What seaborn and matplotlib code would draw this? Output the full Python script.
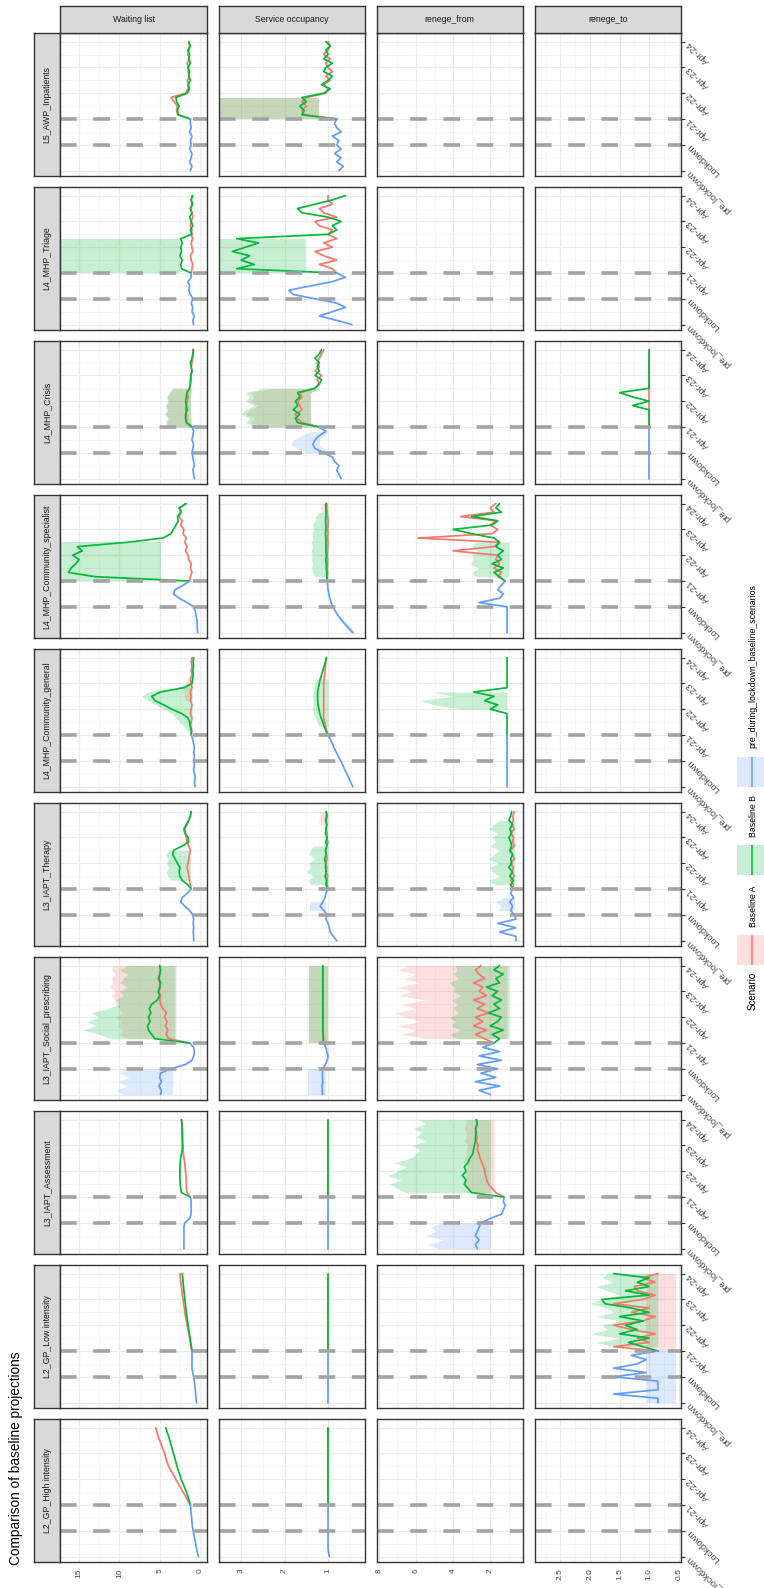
import matplotlib
matplotlib.use("Agg")
import matplotlib.pyplot as plt
from matplotlib.colors import to_rgba
import pandas as pd
import seaborn as sns

sns.set_style("white")
plt.rcParams["font.family"] = ["Liberation Sans", "DejaVu Sans"]

# ---- chart data ----
services = ["L2_GP_High intensity", "L2_GP_Low intensity", "L3_IAPT_Assessment",
            "L3_IAPT_Social_prescribing", "L3_IAPT_Therapy", "L4_MHP_Community_general",
            "L4_MHP_Community_specialist", "L4_MHP_Crisis", "L4_MHP_Triage", "L5_AWP_Inpatients"]
metrics = ["Waiting list", "Service occupancy", "renege_from", "renege_to"]
scenarios = ["Baseline A", "Baseline B", "pre_during_lockdown_baseline_scenarios"]
scenario_colors = ["#F8766D", "#00BA38", "#619CFF"]

months_pre = [0, 2, 4, 6, 8, 10, 12, 14, 16, 18, 20, 22, 24]
months_base = [24, 26, 28, 30, 32, 34, 36, 38, 40, 42, 44, 46, 48, 50, 52, 54, 56, 58, 60]
time_ticks = [0, 12, 24, 36, 48, 60]
time_minor = [6, 18, 30, 42, 54]
time_labels = ["pre_lockdown", "Lockdown", "Apr-21", "Apr-22", "Apr-23", "Apr-24"]
phase_months = [12, 24]

value_ticks = {"Waiting list": [0, 5, 10, 15], "Service occupancy": [1, 2, 3],
               "renege_from": [2, 4, 6, 8], "renege_to": [0.5, 1.0, 1.5, 2.0, 2.5]}
value_tick_labels = {"Waiting list": ["0", "5", "10", "15"], "Service occupancy": ["1", "2", "3"],
                     "renege_from": ["2", "4", "6", "8"],
                     "renege_to": ["0.5", "1.0", "1.5", "2.0", "2.5"]}
value_minor = {"Waiting list": [2.5, 7.5, 12.5], "Service occupancy": [0.5, 1.5, 2.5, 3.5],
               "renege_from": [1, 3, 5, 7], "renege_to": [0.75, 1.25, 1.75, 2.25, 2.75]}
value_range = {"Waiting list": (-0.86, 17.3), "Service occupancy": (0.15, 3.52),
               "renege_from": (0.24, 8.12), "renege_to": (0.46, 2.94)}

waiting_pre = {
    "L2_GP_High intensity": [0.2, 0.35, 0.45, 0.55, 0.65, 0.75, 0.85, 0.95, 1.0, 1.05, 1.1, 1.15, 1.2],
    "L2_GP_Low intensity": [0.45, 0.5, 0.55, 0.6, 0.65, 0.7, 0.8, 0.9, 1.0, 1.0, 1.0, 1.0, 1.0],
    "L3_IAPT_Assessment": [2.0, 2.0, 2.0, 2.0, 2.0, 2.0, 1.9, 1.3, 1.1, 1.1, 1.1, 1.1, 1.2],
    "L3_IAPT_Social_prescribing": [4.9, 4.8, 5.1, 4.8, 5.0, 4.9, 3.6, 1.8, 1.0, 0.8, 0.7, 0.8, 1.3],
    "L3_IAPT_Therapy": [0.8, 0.8, 0.85, 0.8, 0.85, 0.8, 0.9, 1.3, 1.9, 2.4, 2.2, 1.6, 1.1],
    "L4_MHP_Community_general": [0.6, 0.7, 0.6, 0.7, 0.8, 0.7, 0.8, 0.7, 0.8, 0.7, 0.8, 0.9, 1.1],
    "L4_MHP_Community_specialist": [0.3, 0.35, 0.35, 0.4, 0.5, 0.6, 0.8, 1.6, 2.6, 3.3, 3.1, 2.1, 1.3],
    "L4_MHP_Crisis": [0.7, 0.8, 0.9, 0.7, 0.8, 0.9, 1.0, 0.9, 0.8, 1.0, 0.9, 0.8, 1.0],
    "L4_MHP_Triage": [0.8, 0.9, 0.7, 1.0, 0.9, 1.1, 0.9, 1.2, 1.4, 1.3, 1.5, 1.1, 1.1],
    "L5_AWP_Inpatients": [1.2, 1.0, 1.3, 1.1, 1.0, 1.3, 1.1, 1.2, 1.0, 1.3, 1.1, 1.2, 1.2],
}
waiting_a = {
    "L2_GP_High intensity": [1.2, 1.5, 1.8, 2.1, 2.4, 2.7, 3.0, 3.3, 3.6, 3.9, 4.1, 4.25, 4.4, 4.6, 4.8, 5.0, 5.2, 5.35, 5.5],
    "L2_GP_Low intensity": [1.0, 1.1, 1.2, 1.3, 1.4, 1.5, 1.6, 1.7, 1.8, 1.9, 1.95, 2.05, 2.1, 2.2, 2.25, 2.3, 2.4, 2.45, 2.5],
    "L3_IAPT_Assessment": [1.2, 1.6, 1.7, 1.7, 1.7, 1.75, 1.8, 1.85, 1.9, 2.0, 2.05, 2.1, 2.1, 2.15, 2.2, 2.2, 2.2, 2.25, 2.3],
    "L3_IAPT_Social_prescribing": [1.3, 3.9, 4.2, 4.0, 4.3, 4.1, 4.4, 4.2, 4.6, 4.9, 5.0, 4.9, 5.1, 4.9, 5.0, 5.2, 5.0, 4.9, 5.0],
    "L3_IAPT_Therapy": [1.1, 1.2, 1.3, 1.4, 1.5, 1.6, 1.5, 1.4, 1.3, 1.2, 1.4, 1.6, 1.7, 1.8, 1.9, 1.6, 1.4, 1.2, 1.1],
    "L4_MHP_Community_general": [1.1, 1.0, 1.2, 1.1, 1.0, 1.2, 1.1, 1.0, 1.2, 1.1, 1.2, 1.0, 1.1, 1.2, 1.0, 1.1, 1.0, 1.1, 1.0],
    "L4_MHP_Community_specialist": [1.3, 1.2, 1.0, 1.2, 1.1, 1.4, 1.5, 1.8, 1.6, 1.9, 1.7, 2.1, 2.0, 2.4, 2.2, 2.6, 2.3, 2.5, 1.8],
    "L4_MHP_Crisis": [1.0, 1.6, 1.7, 1.7, 1.8, 1.7, 1.6, 1.5, 1.6, 1.3, 1.2, 1.1, 1.2, 1.0, 1.1, 1.0, 0.9, 0.9, 0.9],
    "L4_MHP_Triage": [1.1, 1.0, 0.9, 1.1, 1.2, 0.9, 1.0, 1.1, 0.9, 1.1, 1.0, 1.2, 1.1, 0.9, 1.0, 1.2, 1.0, 1.1, 1.0],
    "L5_AWP_Inpatients": [1.2, 2.8, 2.9, 2.8, 3.2, 3.6, 1.8, 1.5, 1.4, 1.6, 1.3, 1.5, 1.4, 1.6, 1.3, 1.5, 1.4, 1.3, 1.4],
}
waiting_b = {
    "L2_GP_High intensity": [1.2, 1.35, 1.5, 1.7, 1.9, 2.1, 2.35, 2.5, 2.7, 2.85, 3.0, 3.15, 3.3, 3.45, 3.6, 3.75, 3.9, 4.1, 4.25],
    "L2_GP_Low intensity": [1.0, 1.08, 1.16, 1.24, 1.32, 1.4, 1.48, 1.55, 1.62, 1.7, 1.76, 1.82, 1.88, 1.94, 2.0, 2.05, 2.1, 2.15, 2.2],
    "L3_IAPT_Assessment": [1.2, 2.3, 2.4, 2.45, 2.5, 2.5, 2.5, 2.5, 2.45, 2.4, 2.3, 2.2, 2.2, 2.2, 2.2, 2.2, 2.25, 2.25, 2.3],
    "L3_IAPT_Social_prescribing": [1.3, 5.6, 6.0, 6.4, 6.5, 6.2, 6.4, 6.1, 6.3, 6.0, 5.3, 5.0, 5.2, 5.0, 4.9, 5.1, 5.0, 4.9, 5.0],
    "L3_IAPT_Therapy": [1.1, 1.5, 2.2, 2.5, 2.6, 2.5, 2.8, 3.1, 3.4, 3.3, 2.2, 1.4, 1.5, 1.9, 2.0, 1.7, 1.4, 1.2, 1.1],
    "L4_MHP_Community_general": [1.1, 1.1, 1.2, 1.3, 1.5, 2.3, 3.5, 4.5, 5.6, 6.0, 4.9, 2.0, 1.0, 0.9, 0.85, 0.9, 0.8, 0.85, 0.8],
    "L4_MHP_Community_specialist": [1.3, 13.0, 16.3, 16.0, 15.4, 15.0, 15.8, 14.6, 15.2, 9.0, 4.6, 3.6, 3.3, 3.0, 2.7, 2.8, 2.4, 2.6, 1.7],
    "L4_MHP_Crisis": [1.0, 1.7, 1.8, 1.8, 1.6, 1.7, 1.8, 1.7, 1.6, 1.3, 1.2, 1.2, 1.1, 1.0, 1.1, 1.2, 1.0, 0.9, 0.8],
    "L4_MHP_Triage": [1.1, 2.3, 2.4, 2.2, 2.5, 2.3, 2.4, 2.2, 2.4, 1.0, 1.2, 0.9, 1.1, 1.3, 1.0, 1.2, 0.9, 1.1, 0.9],
    "L5_AWP_Inpatients": [1.2, 2.7, 2.8, 2.6, 2.9, 3.0, 1.6, 1.3, 1.5, 1.2, 1.4, 1.3, 1.5, 1.2, 1.4, 1.3, 1.5, 1.2, 1.4],
}

occupancy_pre = {
    "L2_GP_High intensity": [0.97, 0.99, 1.0, 1.0, 1.0, 1.0, 1.0, 1.0, 1.0, 1.0, 1.0, 1.0, 1.0],
    "L2_GP_Low intensity": [1.0, 1.0, 1.0, 1.0, 1.0, 1.0, 1.0, 1.0, 1.0, 1.0, 1.0, 1.0, 1.0],
    "L3_IAPT_Assessment": [1.0, 1.0, 1.0, 1.0, 1.0, 1.0, 1.0, 1.0, 1.0, 1.0, 1.0, 1.0, 1.0],
    "L3_IAPT_Social_prescribing": [1.13, 1.13, 1.14, 1.12, 1.13, 1.13, 1.12, 1.06, 1.02, 1.0, 1.03, 1.05, 1.1],
    "L3_IAPT_Therapy": [0.8, 0.88, 0.95, 0.97, 1.0, 1.05, 1.02, 1.1, 1.18, 1.12, 1.07, 1.05, 1.0],
    "L4_MHP_Community_general": [0.43, 0.48, 0.52, 0.57, 0.62, 0.66, 0.71, 0.76, 0.81, 0.86, 0.9, 0.95, 1.0],
    "L4_MHP_Community_specialist": [0.43, 0.52, 0.61, 0.7, 0.77, 0.83, 0.89, 0.93, 0.96, 0.98, 1.0, 1.01, 1.02],
    "L4_MHP_Crisis": [0.7, 0.75, 0.8, 0.75, 0.85, 0.9, 1.1, 1.3, 1.35, 1.3, 1.2, 1.05, 1.2],
    "L4_MHP_Triage": [0.45, 0.8, 1.2, 0.9, 0.6, 0.8, 1.3, 1.8, 1.9, 1.4, 0.9, 0.6, 0.8],
    "L5_AWP_Inpatients": [0.75, 0.65, 0.8, 0.7, 0.85, 0.7, 0.8, 0.75, 0.9, 0.7, 0.8, 0.85, 0.8],
}
occupancy_a = {
    "L2_GP_High intensity": [1.0, 1.0, 1.0, 1.0, 1.0, 1.0, 1.0, 1.0, 1.0, 1.0, 1.0, 1.0, 1.0, 1.0, 1.0, 1.0, 1.0, 1.0, 1.0],
    "L2_GP_Low intensity": [1.0, 1.0, 1.0, 1.0, 1.0, 1.0, 1.0, 1.0, 1.0, 1.0, 1.0, 1.0, 1.0, 1.0, 1.0, 1.0, 1.0, 1.0, 1.0],
    "L3_IAPT_Assessment": [1.0, 1.0, 1.0, 1.0, 1.0, 1.0, 1.0, 1.0, 1.0, 1.0, 1.0, 1.0, 1.0, 1.0, 1.0, 1.0, 1.0, 1.0, 1.0],
    "L3_IAPT_Social_prescribing": [1.1, 1.11, 1.11, 1.12, 1.12, 1.12, 1.12, 1.12, 1.12, 1.12, 1.12, 1.12, 1.12, 1.12, 1.12, 1.12, 1.12, 1.12, 1.12],
    "L3_IAPT_Therapy": [1.0, 1.02, 1.04, 1.01, 1.05, 1.03, 1.06, 1.02, 1.04, 1.05, 1.03, 1.0, 1.04, 1.02, 1.05, 1.03, 1.06, 1.04, 1.05],
    "L4_MHP_Community_general": [1.0, 1.03, 1.06, 1.08, 1.1, 1.1, 1.1, 1.1, 1.1, 1.1, 1.1, 1.1, 1.1, 1.09, 1.08, 1.07, 1.06, 1.05, 1.04],
    "L4_MHP_Community_specialist": [1.02, 1.02, 1.01, 1.02, 1.01, 1.01, 1.02, 1.01, 1.01, 1.0, 1.01, 1.0, 1.01, 1.0, 1.0, 1.01, 1.02, 1.03, 1.03],
    "L4_MHP_Crisis": [1.2, 1.6, 1.7, 1.75, 1.6, 1.65, 1.7, 1.6, 1.65, 1.3, 1.2, 1.25, 1.15, 1.3, 1.2, 1.25, 1.2, 1.15, 1.1],
    "L4_MHP_Triage": [0.8, 0.9, 1.2, 0.8, 1.1, 1.3, 0.9, 1.1, 0.8, 1.0, 0.9, 1.2, 1.3, 0.8, 1.1, 1.2, 0.9, 1.0, 1.0],
    "L5_AWP_Inpatients": [0.8, 1.55, 1.6, 1.5, 1.6, 1.5, 1.05, 1.0, 1.1, 0.95, 1.05, 0.9, 1.0, 1.05, 0.95, 1.1, 1.0, 0.95, 1.0],
}
occupancy_b = {
    "L2_GP_High intensity": [1.0, 1.0, 1.0, 1.0, 1.0, 1.0, 1.0, 1.0, 1.0, 1.0, 1.0, 1.0, 1.0, 1.0, 1.0, 1.0, 1.0, 1.0, 1.0],
    "L2_GP_Low intensity": [1.0, 1.0, 1.0, 1.0, 1.0, 1.0, 1.0, 1.0, 1.0, 1.0, 1.0, 1.0, 1.0, 1.0, 1.0, 1.0, 1.0, 1.0, 1.0],
    "L3_IAPT_Assessment": [1.0, 1.0, 1.0, 1.0, 1.0, 1.0, 1.0, 1.0, 1.0, 1.0, 1.0, 1.0, 1.0, 1.0, 1.0, 1.0, 1.0, 1.0, 1.0],
    "L3_IAPT_Social_prescribing": [1.1, 1.11, 1.11, 1.12, 1.12, 1.12, 1.12, 1.12, 1.12, 1.12, 1.12, 1.12, 1.12, 1.12, 1.12, 1.12, 1.12, 1.12, 1.12],
    "L3_IAPT_Therapy": [1.0, 1.05, 1.03, 1.07, 1.04, 1.06, 1.05, 1.08, 1.04, 1.06, 1.03, 1.05, 1.02, 1.06, 1.04, 1.03, 1.05, 1.02, 1.04],
    "L4_MHP_Community_general": [1.0, 1.05, 1.09, 1.12, 1.16, 1.19, 1.21, 1.23, 1.24, 1.24, 1.24, 1.22, 1.2, 1.18, 1.15, 1.12, 1.09, 1.06, 1.04],
    "L4_MHP_Community_specialist": [1.02, 1.03, 1.03, 1.04, 1.04, 1.05, 1.04, 1.05, 1.05, 1.05, 1.05, 1.06, 1.05, 1.05, 1.06, 1.05, 1.05, 1.05, 1.05],
    "L4_MHP_Crisis": [1.2, 1.7, 1.75, 1.65, 1.8, 1.7, 1.75, 1.65, 1.7, 1.3, 1.2, 1.15, 1.3, 1.2, 1.25, 1.2, 1.3, 1.2, 1.15],
    "L4_MHP_Triage": [0.8, 3.1, 2.7, 3.0, 2.8, 3.2, 2.9, 2.6, 3.1, 1.0, 0.8, 0.9, 0.7, 1.0, 1.6, 1.7, 1.3, 0.9, 0.6],
    "L5_AWP_Inpatients": [0.8, 1.6, 1.55, 1.65, 1.5, 1.6, 1.1, 0.95, 1.15, 1.0, 0.9, 1.1, 1.05, 0.9, 1.1, 1.0, 1.05, 0.95, 1.05],
}

renege_from_pre = {
    "L3_IAPT_Assessment": [2.7, 2.8, 2.6, 2.8, 2.7, 2.6, 2.5, 2.0, 1.4, 1.3, 1.2, 1.3, 1.25],
    "L3_IAPT_Social_prescribing": [2.0, 2.6, 1.5, 2.8, 1.7, 2.5, 1.6, 2.7, 1.4, 2.6, 1.5, 2.4, 1.8],
    "L3_IAPT_Therapy": [0.62, 0.62, 1.5, 0.62, 1.6, 0.62, 0.7, 0.9, 0.8, 0.95, 0.75, 0.9, 0.8],
    "L4_MHP_Community_general": [1.1, 1.1, 1.1, 1.1, 1.1, 1.1, 1.1, 1.1, 1.1, 1.1, 1.1, 1.1, 1.1],
    "L4_MHP_Community_specialist": [1.1, 1.1, 1.1, 1.1, 1.1, 1.1, 1.1, 2.6, 1.5, 1.3, 1.6, 1.4, 1.2],
}
renege_from_a = {
    "L3_IAPT_Assessment": [1.25, 1.7, 1.9, 2.1, 2.2, 2.25, 2.3, 2.35, 2.45, 2.55, 2.6, 2.7, 2.65, 2.75, 2.7, 2.8, 2.75, 2.7, 2.75],
    "L3_IAPT_Social_prescribing": [1.8, 2.3, 2.8, 2.2, 2.9, 2.4, 2.8, 2.1, 2.7, 2.3, 2.9, 2.2, 2.6, 2.4, 2.9, 2.3, 2.6, 2.8, 2.5],
    "L3_IAPT_Therapy": [0.8, 0.75, 0.9, 0.7, 0.85, 0.75, 0.9, 0.7, 0.8, 0.9, 0.7, 0.8, 0.75, 0.9, 0.7, 0.85, 0.75, 0.8, 0.7],
    "L4_MHP_Community_specialist": [1.2, 1.6, 1.4, 1.8, 1.5, 1.7, 1.6, 4.0, 1.8, 1.5, 5.9, 1.9, 1.6, 2.0, 1.7, 3.6, 1.8, 2.0, 1.7],
}
renege_from_b = {
    "L3_IAPT_Assessment": [1.25, 3.0, 3.2, 3.4, 3.3, 3.5, 3.3, 3.4, 3.2, 3.1, 2.95, 2.9, 2.85, 2.8, 2.8, 2.75, 2.8, 2.7, 2.75],
    "L3_IAPT_Social_prescribing": [1.8, 1.5, 1.9, 1.3, 2.0, 1.6, 1.4, 2.1, 1.5, 1.8, 1.4, 1.9, 1.6, 2.2, 1.5, 1.7, 1.3, 1.8, 1.5],
    "L3_IAPT_Therapy": [0.8, 0.9, 0.75, 0.95, 0.8, 1.0, 0.85, 0.9, 0.8, 0.95, 0.85, 0.9, 1.0, 0.85, 0.95, 0.8, 1.0, 0.9, 0.85],
    "L4_MHP_Community_general": [1.1, 1.1, 1.1, 1.1, 1.1, 1.1, 2.0, 1.6, 2.3, 1.8, 2.9, 1.1, 1.1, 1.1, 1.1, 1.1, 1.1, 1.1, 1.1],
    "L4_MHP_Community_specialist": [1.2, 1.5, 1.8, 1.3, 1.9, 1.4, 1.6, 1.3, 1.7, 1.5, 1.8, 3.0, 4.0, 1.9, 1.6, 3.0, 1.4, 1.7, 1.5],
}

renege_to_pre = {
    "L2_GP_Low intensity": [0.85, 0.85, 1.6, 0.85, 0.85, 0.85, 1.6, 1.05, 1.6, 1.2, 1.05, 1.3, 0.85],
    "L4_MHP_Crisis": [1.0, 1.0, 1.0, 1.0, 1.0, 1.0, 1.0, 1.0, 1.0, 1.0, 1.0, 1.0, 1.0],
}
renege_to_a = {
    "L2_GP_Low intensity": [0.85, 1.6, 1.0, 1.2, 0.9, 1.3, 1.6, 1.1, 0.9, 1.3, 1.0, 1.6, 1.1, 0.9, 1.2, 1.25, 0.9, 1.1, 0.85],
    "L4_MHP_Crisis": [1.0, 1.0, 1.0, 1.0, 1.0, 1.0, 1.0, 1.0, 1.0, 1.0, 1.0, 1.0, 1.0, 1.0, 1.0, 1.0, 1.0, 1.0, 1.0],
}
renege_to_b = {
    "L2_GP_Low intensity": [0.85, 1.1, 1.35, 1.0, 1.5, 1.2, 1.4, 1.1, 1.5, 1.0, 1.3, 1.75, 1.8, 1.0, 1.4, 1.0, 1.2, 1.0, 1.6],
    "L4_MHP_Crisis": [1.0, 1.0, 1.0, 1.0, 1.0, 1.28, 1.0, 1.28, 1.5, 1.0, 1.0, 1.0, 1.0, 1.0, 1.0, 1.0, 1.0, 1.0, 1.0],
}

# uncertainty ribbons: (metric, service) -> (months, low, high)
bands_pre = {
    ("Waiting list", "L3_IAPT_Social_prescribing"): (
        [0, 2, 4, 6, 8, 10, 12], [3.4, 3.4, 3.4, 3.4, 3.4, 3.4, 3.4], [9.5, 10.5, 9.0, 10.2, 8.8, 10.0, 9.5]),
    ("Service occupancy", "L3_IAPT_Social_prescribing"): (
        [0, 2, 4, 6, 8, 10, 12], [1.05, 1.05, 1.05, 1.05, 1.05, 1.05, 1.05], [1.45, 1.45, 1.45, 1.45, 1.45, 1.45, 1.45]),
    ("renege_from", "L3_IAPT_Assessment"): (
        [0, 2, 4, 6, 8, 10, 12], [2.0, 2.0, 2.0, 2.0, 2.0, 2.0, 2.0], [4.8, 5.3, 4.5, 5.5, 4.9, 5.2, 4.6]),
    ("Service occupancy", "L3_IAPT_Therapy"): ([14, 16, 18], [1.05, 1.05, 1.05], [1.43, 1.43, 1.4]),
    ("renege_from", "L3_IAPT_Therapy"): ([14, 16, 18, 20], [0.7, 0.7, 0.7, 0.7], [1.6, 1.4, 1.7, 1.3]),
    ("renege_to", "L2_GP_Low intensity"): (
        [0, 2, 4, 6, 8, 10, 12, 14, 16, 18, 20, 22, 24],
        [0.55, 0.55, 0.55, 0.55, 0.55, 0.55, 0.55, 0.55, 0.55, 0.55, 0.55, 0.55, 0.55],
        [1.05, 1.05, 1.05, 1.05, 1.05, 1.05, 1.05, 1.05, 1.05, 1.05, 1.05, 1.05, 1.05]),
    ("Service occupancy", "L4_MHP_Crisis"): (
        [12, 14, 16, 18, 20, 22], [1.0, 1.1, 1.2, 1.2, 1.1, 1.0], [1.5, 1.7, 1.85, 1.8, 1.6, 1.4]),
    ("Service occupancy", "L4_MHP_Community_specialist"): (
        [0, 2, 4, 6, 8], [0.38, 0.46, 0.55, 0.64, 0.72], [0.5, 0.58, 0.66, 0.74, 0.8]),
}
bands_a = {
    ("Waiting list", "L4_MHP_Crisis"): (
        [24, 26, 28, 30, 32, 34, 36, 38, 40, 42], [1.0, 1.1, 1.2, 1.2, 1.1, 1.2, 1.2, 1.1, 1.2, 1.0],
        [3.8, 4.2, 3.9, 4.3, 4.0, 4.2, 3.9, 4.1, 3.7, 3.2]),
    ("Service occupancy", "L4_MHP_Crisis"): (
        [24, 26, 28, 30, 32, 34, 36, 38, 40, 42], [1.3, 1.4, 1.4, 1.4, 1.4, 1.4, 1.4, 1.4, 1.4, 1.2],
        [2.5, 2.8, 2.7, 2.9, 2.8, 2.6, 2.8, 2.7, 2.8, 2.3]),
    ("Service occupancy", "L5_AWP_Inpatients"): (
        [24, 26, 28, 30, 32, 34], [1.2, 1.2, 1.2, 1.2, 1.2, 1.2], [3.6, 3.6, 3.6, 3.6, 3.6, 3.6]),
    ("Service occupancy", "L4_MHP_Community_specialist"): ([56, 58, 60], [1.0, 1.0, 1.0], [1.15, 1.18, 1.15]),
    ("Waiting list", "L4_MHP_Community_general"): (
        [40, 42, 44, 46, 48, 50], [1.0, 1.0, 1.0, 1.0, 1.0, 1.0], [1.8, 2.0, 1.9, 2.1, 1.8, 1.5]),
    ("Service occupancy", "L3_IAPT_Therapy"): ([54, 56, 58, 60], [1.0, 1.0, 1.0, 1.0], [1.2, 1.22, 1.18, 1.2]),
    ("Waiting list", "L3_IAPT_Social_prescribing"): (
        [26, 28, 30, 32, 34, 36, 38, 40, 42, 44, 46, 48, 50, 52, 54, 56, 58, 60],
        [3.2, 3.2, 3.2, 3.2, 3.2, 3.2, 3.2, 3.2, 3.2, 3.2, 3.2, 3.2, 3.2, 3.2, 3.2, 3.2, 3.2, 3.2],
        [9.0, 10.0, 9.5, 10.2, 9.8, 10.5, 9.6, 10.0, 10.4, 10.6, 11.0, 10.5, 11.2, 10.8, 11.0, 10.5, 11.0, 10.8]),
    ("Service occupancy", "L3_IAPT_Social_prescribing"): (
        [24, 26, 28, 30, 32, 34, 36, 38, 40, 42, 44, 46, 48, 50, 52, 54, 56, 58, 60],
        [1.0, 1.0, 1.0, 1.0, 1.0, 1.0, 1.0, 1.0, 1.0, 1.0, 1.0, 1.0, 1.0, 1.0, 1.0, 1.0, 1.0, 1.0, 1.0],
        [1.43, 1.43, 1.43, 1.43, 1.43, 1.43, 1.43, 1.43, 1.43, 1.43, 1.43, 1.43, 1.43, 1.43, 1.43, 1.43, 1.43, 1.43, 1.43]),
    ("renege_from", "L3_IAPT_Social_prescribing"): (
        [26, 28, 30, 32, 34, 36, 38, 40, 42, 44, 46, 48, 50, 52, 54, 56, 58, 60],
        [1.1, 1.1, 1.1, 1.1, 1.1, 1.1, 1.1, 1.1, 1.1, 1.1, 1.1, 1.1, 1.1, 1.1, 1.1, 1.1, 1.1, 1.1],
        [5.5, 6.8, 6.0, 7.0, 5.8, 6.5, 7.2, 6.0, 6.8, 5.5, 6.9, 6.2, 7.0, 5.8, 6.6, 6.0, 7.0, 6.3]),
    ("renege_from", "L3_IAPT_Assessment"): (
        [26, 28, 30, 32, 34, 36, 38, 40, 42, 44, 46, 48, 50, 52, 54, 56, 58, 60],
        [1.8, 1.8, 1.8, 1.8, 1.8, 1.8, 1.8, 1.8, 1.8, 1.8, 1.8, 1.8, 1.8, 1.8, 1.8, 1.8, 1.8, 1.8],
        [3.3, 3.2, 3.4, 3.3, 3.3, 3.4, 3.2, 3.3, 3.4, 3.3, 3.3, 3.2, 3.4, 3.3, 3.3, 3.4, 3.3, 3.3]),
    ("renege_to", "L2_GP_Low intensity"): (
        [24, 26, 28, 30, 32, 34, 36, 38, 40, 42, 44, 46, 48, 50, 52, 54, 56, 58, 60],
        [0.55, 0.55, 0.55, 0.55, 0.55, 0.55, 0.55, 0.55, 0.55, 0.55, 0.55, 0.55, 0.55, 0.55, 0.55, 0.55, 0.55, 0.55, 0.55],
        [1.05, 1.05, 1.05, 1.05, 1.05, 1.05, 1.05, 1.05, 1.05, 1.05, 1.05, 1.05, 1.05, 1.05, 1.05, 1.05, 1.05, 1.05, 1.05]),
}
bands_b = {
    ("Waiting list", "L4_MHP_Triage"): (
        [24, 26, 28, 30, 32, 34, 36, 38, 40], [2.5, 2.5, 2.5, 2.5, 2.5, 2.5, 2.5, 2.5, 2.5],
        [17.5, 17.5, 17.5, 17.5, 17.5, 17.5, 17.5, 17.5, 17.5]),
    ("Service occupancy", "L4_MHP_Triage"): (
        [24, 26, 28, 30, 32, 34, 36, 38, 40], [1.5, 1.5, 1.5, 1.5, 1.5, 1.5, 1.5, 1.5, 1.5],
        [3.6, 3.6, 3.6, 3.6, 3.6, 3.6, 3.6, 3.6, 3.6]),
    ("Service occupancy", "L5_AWP_Inpatients"): (
        [24, 26, 28, 30, 32, 34], [1.2, 1.2, 1.2, 1.2, 1.2, 1.2], [3.6, 3.6, 3.6, 3.6, 3.6, 3.6]),
    ("Waiting list", "L4_MHP_Crisis"): (
        [24, 26, 28, 30, 32, 34, 36, 38, 40, 42], [1.0, 1.1, 1.1, 1.2, 1.2, 1.1, 1.2, 1.2, 1.1, 1.0],
        [4.0, 4.3, 4.0, 4.4, 4.1, 4.3, 4.0, 4.2, 3.8, 3.5]),
    ("Service occupancy", "L4_MHP_Crisis"): (
        [24, 26, 28, 30, 32, 34, 36, 38, 40, 42], [1.3, 1.4, 1.4, 1.4, 1.4, 1.4, 1.4, 1.4, 1.4, 1.2],
        [2.6, 2.9, 2.8, 3.0, 2.9, 2.7, 2.9, 2.8, 2.9, 2.5]),
    ("Waiting list", "L4_MHP_Community_specialist"): (
        [24, 26, 28, 30, 32, 34, 36, 38, 40, 42], [4.8, 4.8, 4.8, 4.8, 4.8, 4.8, 4.8, 4.8, 4.8, 4.8],
        [17.5, 17.5, 17.5, 17.5, 17.5, 17.5, 17.5, 17.5, 17.5, 17.5]),
    ("Service occupancy", "L4_MHP_Community_specialist"): (
        [26, 28, 30, 32, 34, 36, 38, 40, 42, 44, 46, 48, 50, 52, 54, 56],
        [1.0, 1.0, 1.0, 1.0, 1.0, 1.0, 1.0, 1.0, 1.0, 1.0, 1.0, 1.0, 1.0, 1.0, 1.0, 1.0],
        [1.3, 1.36, 1.38, 1.35, 1.38, 1.37, 1.38, 1.36, 1.38, 1.35, 1.37, 1.33, 1.36, 1.3, 1.28, 1.2]),
    ("renege_from", "L4_MHP_Community_specialist"): (
        [26, 28, 30, 32, 34, 36, 38, 40, 42], [1.0, 1.0, 1.0, 1.0, 1.0, 1.0, 1.0, 1.0, 1.0],
        [2.8, 3.0, 2.6, 3.1, 2.9, 3.0, 2.7, 3.0, 2.8]),
    ("Waiting list", "L4_MHP_Community_general"): (
        [26, 28, 30, 32, 34, 36, 38, 40, 42, 44, 46, 48],
        [1.0, 1.0, 1.0, 1.0, 1.0, 1.0, 1.0, 1.0, 1.0, 1.0, 1.0, 1.0],
        [1.6, 2.0, 2.5, 3.0, 3.5, 4.5, 5.5, 6.5, 7.2, 6.5, 3.0, 1.5]),
    ("Service occupancy", "L4_MHP_Community_general"): (
        [28, 30, 32, 34, 36, 38, 40, 42, 44, 46, 48, 50],
        [1.0, 1.0, 1.0, 1.0, 1.0, 1.0, 1.0, 1.0, 1.0, 1.0, 1.0, 1.0],
        [1.2, 1.25, 1.3, 1.33, 1.35, 1.35, 1.35, 1.35, 1.34, 1.32, 1.3, 1.25]),
    ("renege_from", "L4_MHP_Community_general"): (
        [36, 38, 40, 42, 44], [1.1, 1.1, 1.1, 1.1, 1.1], [3.5, 5.0, 5.8, 4.0, 5.1]),
    ("Waiting list", "L3_IAPT_Therapy"): (
        [28, 30, 32, 34, 36, 38, 40, 42], [1.2, 1.2, 1.2, 1.2, 1.2, 1.2, 1.2, 1.2],
        [3.5, 4.0, 4.2, 3.8, 4.2, 4.0, 4.3, 3.8]),
    ("Service occupancy", "L3_IAPT_Therapy"): (
        [26, 28, 30, 32, 34, 36, 38, 40, 42, 44], [1.0, 1.0, 1.0, 1.0, 1.0, 1.0, 1.0, 1.0, 1.0, 1.0],
        [1.4, 1.45, 1.35, 1.5, 1.4, 1.45, 1.3, 1.45, 1.4, 1.35]),
    ("renege_from", "L3_IAPT_Therapy"): (
        [26, 28, 30, 32, 34, 36, 38, 40, 42, 44, 46, 48, 50, 52, 54, 56],
        [0.7, 0.7, 0.7, 0.7, 0.7, 0.7, 0.7, 0.7, 0.7, 0.7, 0.7, 0.7, 0.7, 0.7, 0.7, 0.7],
        [1.7, 2.1, 1.5, 1.9, 2.0, 1.6, 2.1, 1.8, 1.5, 2.0, 1.7, 1.9, 1.6, 2.1, 1.8, 1.5]),
    ("Waiting list", "L3_IAPT_Social_prescribing"): (
        [26, 28, 30, 32, 34, 36, 38, 40, 42, 44, 46, 48, 50, 52, 54, 56, 58, 60],
        [3.0, 3.0, 3.0, 3.0, 3.0, 3.0, 3.0, 3.0, 3.0, 3.0, 3.0, 3.0, 3.0, 3.0, 3.0, 3.0, 3.0, 3.0],
        [11.0, 12.5, 14.5, 13.0, 14.0, 12.5, 13.5, 11.5, 10.0, 10.5, 9.5, 10.0, 9.0, 10.0, 9.5, 9.0, 10.0, 9.0]),
    ("Service occupancy", "L3_IAPT_Social_prescribing"): (
        [24, 26, 28, 30, 32, 34, 36, 38, 40, 42, 44, 46, 48, 50, 52, 54, 56, 58, 60],
        [1.0, 1.0, 1.0, 1.0, 1.0, 1.0, 1.0, 1.0, 1.0, 1.0, 1.0, 1.0, 1.0, 1.0, 1.0, 1.0, 1.0, 1.0, 1.0],
        [1.43, 1.43, 1.43, 1.43, 1.43, 1.43, 1.43, 1.43, 1.43, 1.43, 1.43, 1.43, 1.43, 1.43, 1.43, 1.43, 1.43, 1.43, 1.43]),
    ("renege_from", "L3_IAPT_Social_prescribing"): (
        [26, 28, 30, 32, 34, 36, 38, 40, 42, 44, 46, 48, 50, 52, 54, 56, 58, 60],
        [1.0, 1.0, 1.0, 1.0, 1.0, 1.0, 1.0, 1.0, 1.0, 1.0, 1.0, 1.0, 1.0, 1.0, 1.0, 1.0, 1.0, 1.0],
        [3.8, 4.2, 3.6, 4.1, 3.9, 4.2, 3.7, 4.0, 3.8, 4.1, 3.6, 4.0, 3.9, 4.2, 3.7, 4.0, 3.8, 3.9]),
    ("renege_from", "L3_IAPT_Assessment"): (
        [26, 28, 30, 32, 34, 36, 38, 40, 42, 44, 46, 48, 50, 52, 54, 56, 58, 60],
        [2.0, 2.0, 2.0, 2.0, 2.0, 2.0, 2.0, 2.0, 2.0, 2.0, 2.0, 2.0, 2.0, 2.0, 2.0, 2.0, 2.0, 2.0],
        [6.5, 7.0, 7.4, 6.8, 7.5, 7.0, 6.5, 7.2, 6.3, 6.0, 5.8, 6.2, 5.5, 6.0, 5.7, 6.1, 5.5, 5.8]),
    ("renege_to", "L2_GP_Low intensity"): (
        [26, 28, 30, 32, 34, 36, 38, 40, 42, 44, 46, 48, 50, 52, 54, 56, 58, 60],
        [0.85, 0.85, 0.85, 0.85, 0.85, 0.85, 0.85, 0.85, 0.85, 0.85, 0.85, 0.85, 0.85, 0.85, 0.85, 0.85, 0.85, 0.85],
        [1.6, 1.9, 1.5, 2.0, 1.7, 1.8, 1.5, 1.9, 1.6, 1.7, 2.0, 1.8, 1.5, 1.7, 1.9, 1.6, 1.8, 1.7]),
}

# ---- long table for seaborn ----
series_sets = [
    ("Waiting list", waiting_a, waiting_b, waiting_pre),
    ("Service occupancy", occupancy_a, occupancy_b, occupancy_pre),
    ("renege_from", renege_from_a, renege_from_b, renege_from_pre),
    ("renege_to", renege_to_a, renege_to_b, renege_to_pre),
]
records = []
for metric, ser_a, ser_b, ser_pre in series_sets:
    for scen, ser, months in [(scenarios[0], ser_a, months_base),
                              (scenarios[1], ser_b, months_base),
                              (scenarios[2], ser_pre, months_pre)]:
        for svc, vals in ser.items():
            assert len(vals) == len(months), (metric, scen, svc)
            for m, v in zip(months, vals):
                records.append({"metric": metric, "service": svc, "scenario": scen,
                                "month": m, "value": v})
lines = pd.DataFrame(records)
palette = dict(zip(scenarios, scenario_colors))
bands = {scenarios[0]: bands_a, scenarios[1]: bands_b, scenarios[2]: bands_pre}

# ---- layout (pixels of the 764 x 1588 canvas) ----
W, H = 764, 1588
col_left = [60.5, 218.5, 376.5, 534.5]
col_w = 146.5
row_h, row_step, first_top = 143, 154, 33


def box(x, y, w, h):
    return [x / W, 1 - (y + h) / H, w / W, h / H]


def strip(rect, text, rotation):
    sax = fig.add_axes(rect)
    sax.set_facecolor("#D9D9D9")
    sax.set_xticks([])
    sax.set_yticks([])
    for sp in sax.spines.values():
        sp.set_color("#333333")
        sp.set_linewidth(1.0)
    sax.text(0.5, 0.5, text, rotation=rotation, ha="center", va="center",
             fontsize=6.3, color="#1A1A1A", transform=sax.transAxes)


fig = plt.figure(figsize=(W / 100, H / 100), dpi=100)
fig.patch.set_facecolor("white")

row_services = services[::-1]
for i, svc in enumerate(row_services):
    top = first_top + i * row_step
    strip(box(33.5, top, 27, row_h), svc, 90)
    for j, metric in enumerate(metrics):
        ax = fig.add_axes(box(col_left[j], top, col_w, row_h))
        ax.set_facecolor("white")

        for scen in scenarios:
            key = (metric, svc)
            if key in bands[scen]:
                bm, blo, bhi = bands[scen][key]
                ax.fill_betweenx(bm, blo, bhi, color=palette[scen], alpha=0.22,
                                 linewidth=0, zorder=1)

        sub = lines[(lines["metric"] == metric) & (lines["service"] == svc)]
        if len(sub):
            sns.lineplot(data=sub, x="value", y="month", hue="scenario",
                         hue_order=scenarios, palette=palette, orient="y",
                         estimator=None, errorbar=None, legend=False,
                         linewidth=1.25, ax=ax, zorder=2)
        for pm in phase_months:
            ax.axhline(pm, color="#A3A3A3", linewidth=2.6, linestyle=(0, (4.6, 4.6)), zorder=3)

        vlo, vhi = value_range[metric]
        ax.set_xlim(vhi, vlo)
        ax.set_ylim(-2.5, 64)
        ax.set_xticks(value_ticks[metric])
        ax.set_xticks(value_minor[metric], minor=True)
        ax.set_yticks(time_ticks)
        ax.set_yticks(time_minor, minor=True)
        ax.set(xlabel=None, ylabel=None)
        ax.grid(which="major", color="#EBEBEB", linewidth=0.9)
        ax.grid(which="minor", color="#F3F3F3", linewidth=0.5)
        ax.set_axisbelow(True)
        for sp in ax.spines.values():
            sp.set_color("#333333")
            sp.set_linewidth(1.0)
            sp.set_zorder(4)
        ax.tick_params(which="both", length=0, labelbottom=False, labelleft=False,
                       labelright=False, labeltop=False)

        if i == len(row_services) - 1:
            ax.set_xticklabels(value_tick_labels[metric])
            ax.tick_params(axis="x", which="major", length=3, width=0.8, color="#333333",
                           labelbottom=True, labelsize=6, labelcolor="#4D4D4D",
                           labelrotation=90, pad=1.5)
        if j == len(metrics) - 1:
            ax.yaxis.tick_right()
            ax.set_yticklabels(time_labels)
            ax.tick_params(axis="y", which="major", length=3, width=0.8, color="#333333",
                           labelright=True, labelleft=False, labelsize=6.8,
                           labelcolor="#4D4D4D", pad=2)
            ax.tick_params(axis="y", which="minor", length=0)
            plt.setp(ax.get_yticklabels(), rotation=135, ha="right", va="center",
                     rotation_mode="anchor")

for j, metric in enumerate(metrics):
    strip(box(col_left[j], 6, col_w, 27), metric, 0)

# title (rotated with the whole chart)
fig.text(16 / W, 1 - 1565 / H, "Comparison of baseline projections", rotation=90,
         ha="center", va="bottom", fontsize=9.8, color="black")

# legend, drawn rotated along the right edge
fig.text(753 / W, 1 - 1010 / H, "Scenario", rotation=90, ha="center", va="bottom",
         fontsize=7, color="black")
legend_slots = [(935, 927), (845, 837), (757, 748)]
for scen, (key_top, label_bottom) in zip(scenarios, legend_slots):
    kax = fig.add_axes(box(737, key_top, 27, 30))
    kax.set_facecolor(to_rgba(palette[scen], 0.22))
    kax.set_xlim(0, 1)
    kax.set_ylim(0, 1)
    kax.axvline(0.55, color=palette[scen], linewidth=1.1)
    kax.set_xticks([])
    kax.set_yticks([])
    for sp in kax.spines.values():
        sp.set_visible(False)
    fig.text(753 / W, 1 - label_bottom / H, scen, rotation=90, ha="center", va="bottom",
             fontsize=6.3, color="black")

fig.savefig("out.png", dpi=100, facecolor="white")
